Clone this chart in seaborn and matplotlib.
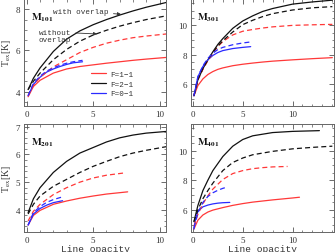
import numpy as np
import pandas as pd
import matplotlib
matplotlib.use("Agg")
import matplotlib.pyplot as plt
from matplotlib.ticker import MultipleLocator
import seaborn as sns

# ---- data (line opacity vs Tex) ----
# M101
m101_x_long = [0.1, 0.5, 1, 2, 3, 4, 5, 6, 7, 8, 9, 10.5]
m101_f21_with = [4.1, 4.65, 5.15, 5.95, 6.55, 6.95, 7.25, 7.5, 7.72, 7.92, 8.1, 8.33]
m101_f21_without = [4.1, 4.5, 4.9, 5.55, 6.05, 6.45, 6.75, 6.98, 7.18, 7.35, 7.5, 7.68]
m101_f11_without = [3.8, 4.3, 4.7, 5.2, 5.55, 5.9, 6.15, 6.35, 6.5, 6.62, 6.7, 6.8]
m101_f11_with = [3.75, 4.25, 4.55, 4.9, 5.1, 5.22, 5.3, 5.38, 5.45, 5.52, 5.58, 5.66]
m101_x_short = [0.1, 0.5, 1, 1.5, 2, 2.5, 3, 3.5, 4.2]
m101_f01_with = [3.8, 4.35, 4.7, 4.95, 5.1, 5.22, 5.32, 5.4, 5.45]
m101_f01_without = [3.8, 4.4, 4.75, 5.0, 5.15, 5.28, 5.38, 5.45, 5.52]

# M301
m301_x_long = [0.1, 0.5, 1, 1.5, 2, 2.5, 3, 4, 5, 6, 7, 8, 10, 12, 14]
m301_f21_with = [5.2, 6.3, 7.05, 7.65, 8.2, 8.7, 9.1, 9.8, 10.3, 10.65, 10.95, 11.15, 11.45, 11.6, 11.72]
m301_f21_without = [5.2, 6.3, 7.05, 7.65, 8.15, 8.6, 8.95, 9.55, 10.05, 10.35, 10.6, 10.8, 11.05, 11.2, 11.28]
m301_f11_without = [5.2, 6.3, 7.0, 7.6, 8.1, 8.55, 8.9, 9.35, 9.6, 9.72, 9.82, 9.9, 10.0, 10.04, 10.07]
m301_f11_with = [5.2, 5.9, 6.35, 6.65, 6.85, 7.0, 7.1, 7.25, 7.35, 7.43, 7.5, 7.56, 7.65, 7.73, 7.8]
m301_x_short = [0.1, 0.5, 1, 1.5, 2, 2.5, 3, 4, 5, 5.8]
m301_f01_with = [5.2, 6.5, 7.2, 7.65, 7.95, 8.15, 8.28, 8.42, 8.5, 8.55]
m301_f01_without = [5.2, 6.5, 7.25, 7.75, 8.1, 8.35, 8.5, 8.68, 8.8, 8.87]

# M201
m201_x_f21 = [0.1, 0.5, 1, 2, 3, 4, 5, 6, 7, 8, 9, 10.5]
m201_f21_with = [3.9, 4.4, 4.8, 5.35, 5.75, 6.05, 6.25, 6.45, 6.6, 6.7, 6.77, 6.83]
m201_f21_without = [3.85, 4.2, 4.5, 4.85, 5.1, 5.35, 5.57, 5.75, 5.92, 6.05, 6.15, 6.28]
m201_x_f11_without = [0.1, 0.5, 1, 2, 3, 4, 5, 6, 7.3]
m201_f11_without = [3.6, 3.95, 4.2, 4.55, 4.8, 5.0, 5.15, 5.25, 5.33]
m201_x_f11_with = [0.1, 0.5, 1, 2, 3, 4, 5, 6, 7.6]
m201_f11_with = [3.45, 3.8, 3.98, 4.2, 4.32, 4.42, 4.5, 4.57, 4.65]
m201_x_f01 = [0.1, 0.5, 1, 1.5, 2, 2.7]
m201_f01_with = [3.45, 3.85, 4.05, 4.17, 4.26, 4.33]
m201_f01_without = [3.45, 3.9, 4.12, 4.27, 4.37, 4.47]

# M401
m401_x_f21_with = [0.1, 0.5, 1, 1.5, 2, 3, 4, 5, 6, 8, 10, 12.7]
m401_f21_with = [5.2, 6.3, 7.3, 8.0, 8.65, 9.6, 10.3, 10.75, 11.0, 11.22, 11.3, 11.35]
m401_x_f21_without = [0.1, 0.5, 1, 1.5, 2, 3, 4, 5, 6, 8, 10, 12, 14]
m401_f21_without = [5.2, 6.0, 6.75, 7.3, 7.8, 8.65, 9.2, 9.5, 9.72, 9.95, 10.12, 10.22, 10.3]
m401_x_f11_without = [0.1, 0.5, 1, 1.5, 2, 3, 4, 5, 6, 7, 8, 9.5]
m401_f11_without = [4.9, 5.7, 6.4, 6.95, 7.4, 8.05, 8.45, 8.65, 8.78, 8.85, 8.9, 8.93]
m401_x_f11_with = [0.1, 0.5, 1, 1.5, 2, 3, 4, 5, 6, 8, 10, 10.7]
m401_f11_with = [4.7, 5.3, 5.65, 5.85, 5.98, 6.15, 6.3, 6.42, 6.52, 6.67, 6.8, 6.85]
m401_x_f01_with = [0.1, 0.3, 0.5, 1, 1.5, 2, 2.5, 3, 3.7]
m401_f01_with = [4.7, 5.5, 5.9, 6.2, 6.32, 6.4, 6.45, 6.48, 6.5]
m401_x_f01_without = [0.1, 0.5, 1, 1.5, 2, 2.5, 3, 3.5]
m401_f01_without = [4.8, 5.8, 6.5, 6.9, 7.15, 7.32, 7.45, 7.55]

panel_names = ["101", "301", "201", "401"]

RED = "#ff3838"
BLACK = "#111111"
BLUE = "#2a2aff"

sns.set_style("ticks")
plt.rcParams["font.family"] = ["Liberation Serif", "DejaVu Serif"]
plt.rcParams["mathtext.fontset"] = "stix"
mono = ["Liberation Mono", "DejaVu Sans Mono"]

fig = plt.figure(figsize=(3.35, 2.53), dpi=100)
axes = [
    fig.add_axes([0.072, 0.577, 0.424, 0.423]),
    fig.add_axes([0.570, 0.577, 0.428, 0.423]),
    fig.add_axes([0.072, 0.079, 0.424, 0.427]),
    fig.add_axes([0.570, 0.079, 0.428, 0.427]),
]

curves = [
    [  # M101
        (m101_x_long, m101_f11_with, RED, "-", "F=1\u22121"),
        (m101_x_long, m101_f21_with, BLACK, "-", "F=2\u22121"),
        (m101_x_short, m101_f01_with, BLUE, "-", "F=0\u22121"),
        (m101_x_long, m101_f11_without, RED, "--", None),
        (m101_x_long, m101_f21_without, BLACK, "--", None),
        (m101_x_short, m101_f01_without, BLUE, "--", None),
    ],
    [  # M301
        (m301_x_long, m301_f11_with, RED, "-", None),
        (m301_x_long, m301_f21_with, BLACK, "-", None),
        (m301_x_short, m301_f01_with, BLUE, "-", None),
        (m301_x_long, m301_f11_without, RED, "--", None),
        (m301_x_long, m301_f21_without, BLACK, "--", None),
        (m301_x_short, m301_f01_without, BLUE, "--", None),
    ],
    [  # M201
        (m201_x_f11_with, m201_f11_with, RED, "-", None),
        (m201_x_f21, m201_f21_with, BLACK, "-", None),
        (m201_x_f01, m201_f01_with, BLUE, "-", None),
        (m201_x_f11_without, m201_f11_without, RED, "--", None),
        (m201_x_f21, m201_f21_without, BLACK, "--", None),
        (m201_x_f01, m201_f01_without, BLUE, "--", None),
    ],
    [  # M401
        (m401_x_f11_with, m401_f11_with, RED, "-", None),
        (m401_x_f21_with, m401_f21_with, BLACK, "-", None),
        (m401_x_f01_with, m401_f01_with, BLUE, "-", None),
        (m401_x_f11_without, m401_f11_without, RED, "--", None),
        (m401_x_f21_without, m401_f21_without, BLACK, "--", None),
        (m401_x_f01_without, m401_f01_without, BLUE, "--", None),
    ],
]

xlims = [(-0.2, 10.5), (-0.2, 14.2), (-0.2, 10.5), (-0.2, 14.2)]
ylims = [(3.3, 8.5), (4.5, 11.8), (3.2, 7.1), (4.5, 11.8)]
ymajor = [2, 2, 1, 2]
yminor = [0.5, 0.5, 0.2, 0.5]

for i, ax in enumerate(axes):
    for x, y, c, ls, lab in curves[i]:
        sns.lineplot(x=x, y=y, ax=ax, color=c, linestyle=ls, lw=0.9,
                     sort=False, estimator=None, label=lab)
        if ls == "--":
            ax.lines[-1].set_dashes((4, 2.5))
    ax.set_xlim(*xlims[i])
    ax.set_ylim(*ylims[i])
    ax.xaxis.set_major_locator(MultipleLocator(5))
    ax.xaxis.set_minor_locator(MultipleLocator(1))
    ax.yaxis.set_major_locator(MultipleLocator(ymajor[i]))
    ax.yaxis.set_minor_locator(MultipleLocator(yminor[i]))
    ax.tick_params(which="both", direction="in", top=True, right=True,
                   labelsize=6.5, colors="#555555", labelcolor="#333333", pad=3)
    ax.tick_params(which="major", length=3.5, width=0.6)
    ax.tick_params(which="minor", length=1.8, width=0.5)
    for s in ax.spines.values():
        s.set_color("#666666")
        s.set_linewidth(0.7)
    ax.text(0.045, 0.81, r"$\mathbf{M_{" + panel_names[i] + r"}}$",
            transform=ax.transAxes, fontsize=7.5, color="#111111")
    if i != 0 and ax.get_legend() is not None:
        ax.get_legend().remove()
    ax.set_xlabel("")
    ax.set_ylabel("")

leg = axes[0].legend(loc="upper left", bbox_to_anchor=(0.47, 0.33),
                     frameon=False, fontsize=5.5, handlelength=2.0,
                     handletextpad=0.6, labelspacing=0.3,
                     borderaxespad=0, borderpad=0)
for t in leg.get_texts():
    t.set_family(mono)
    t.set_color("#333333")

axes[0].annotate("with overlap", xy=(7.1, 7.76), xytext=(2.0, 7.9),
                 fontsize=5.5, family=mono, color="#333333", va="center",
                 arrowprops=dict(arrowstyle="-|>", color="#333333", lw=0.6,
                                 mutation_scale=5, shrinkA=1, shrinkB=0))
axes[0].annotate("without\noverlap", xy=(5.3, 6.8), xytext=(0.9, 6.45),
                 fontsize=5.5, family=mono, color="#333333", linespacing=1.0,
                 arrowprops=dict(arrowstyle="-|>", color="#333333", lw=0.6,
                                 mutation_scale=5, shrinkA=1, shrinkB=0,
                                 relpos=(0.95, 0.75)))

for ax in (axes[0], axes[2]):
    ax.set_ylabel(r"T$_{\rm ex}$[K]", fontsize=7, color="#333333", labelpad=2)
for ax in (axes[2], axes[3]):
    ax.set_xlabel("Line opacity", fontsize=6.8, color="#333333", labelpad=0,
                  family=mono)

fig.savefig("out.png", dpi=100)
